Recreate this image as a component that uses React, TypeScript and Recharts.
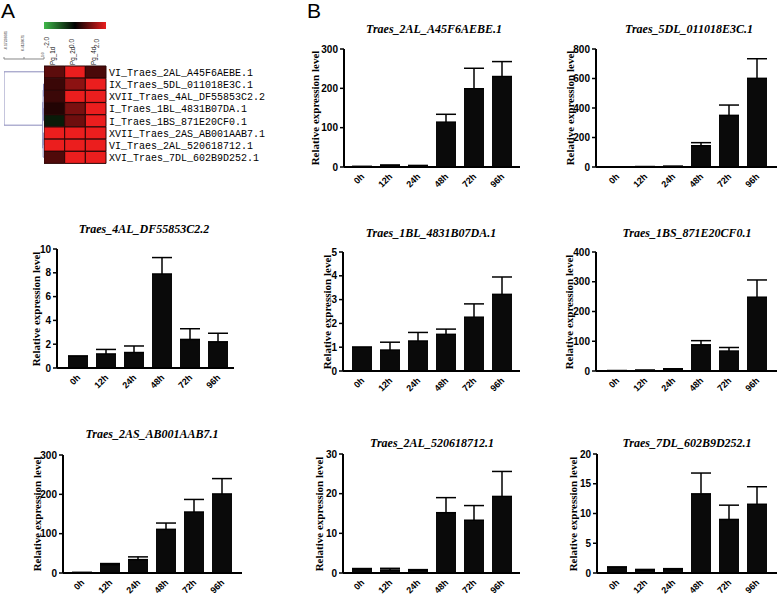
import React from 'react';
import { BarChart, Bar, XAxis, YAxis, ErrorBar, Cell, ScatterChart, Scatter } from 'recharts';

// ---------- Panel B data ----------
const timePoints = ['0h', '12h', '24h', '48h', '72h', '96h'];

const geneNames = [
  'Traes_2AL_A45F6AEBE.1',
  'Traes_5DL_011018E3C.1',
  'Traes_4AL_DF55853C2.2',
  'Traes_1BL_4831B07DA.1',
  'Traes_1BS_871E20CF0.1',
  'Traes_2AS_AB001AAB7.1',
  'Traes_2AL_520618712.1',
  'Traes_7DL_602B9D252.1',
];

const mean2AL_A45 = [1, 4, 3, 114, 199, 230];
const err2AL_A45 = [0.5, 1, 1, 20, 52, 38];
const mean5DL = [1, 2, 4, 144, 350, 601];
const err5DL = [0.5, 1, 1, 21, 70, 133];
const mean4AL = [1.0, 1.18, 1.3, 7.9, 2.4, 2.2];
const err4AL = [0, 0.38, 0.55, 1.38, 0.9, 0.72];
const mean1BL = [1.0, 0.88, 1.26, 1.54, 2.26, 3.22];
const err1BL = [0, 0.33, 0.36, 0.22, 0.56, 0.73];
const mean1BS = [1, 2, 6, 88, 67, 248];
const err1BS = [0.5, 1, 1.5, 14, 12, 58];
const mean2AS = [1, 21, 34, 111, 155, 201];
const err2AS = [0.5, 3, 7, 16, 32, 39];
const mean2AL_52 = [1.1, 0.76, 0.68, 15.2, 13.3, 19.3];
const err2AL_52 = [0, 0.42, 0.17, 3.8, 3.7, 6.3];
const mean7DL = [1.0, 0.45, 0.56, 13.3, 9.0, 11.55];
const err7DL = [0, 0.15, 0.17, 3.5, 2.4, 2.95];

const ticks300 = [0, 100, 200, 300];
const ticks800 = [0, 200, 400, 600, 800];
const ticks10 = [0, 2, 4, 6, 8, 10];
const ticks5 = [0, 1, 2, 3, 4, 5];
const ticks400 = [0, 100, 200, 300, 400];
const ticks30 = [0, 10, 20, 30];
const ticks20 = [0, 5, 10, 15, 20];

// ---------- Panel A data ----------
const heatGenes = [
  'VI_Traes_2AL_A45F6AEBE.1',
  'IX_Traes_5DL_011018E3C.1',
  'XVII_Traes_4AL_DF55853C2.2',
  'I_Traes_1BL_4831B07DA.1',
  'I_Traes_1BS_871E20CF0.1',
  'XVII_Traes_2AS_AB001AAB7.1',
  'VI_Traes_2AL_520618712.1',
  'XVI_Traes_7DL_602B9D252.1',
];
const heatCols = ['Pg_1d', 'Pg_2d', 'Pg_4d'];
const heat1d = [0.78, 0.49, 0.5, 0.29, -0.3, 2, 2, 0.68];
const heat2d = [2, 1.19, 2, 1.04, 0.94, 2, 2, 2];
const heat4d = [0.63, 2, 2, 2, 2, 2, 2, 2];
const colorScaleLabels = ['-2.0', '0.0', '2.0'];

const dendroTicks = [-0.17238681, 0.4138071, 1.0];
const dendroTickLabels = ['-0.17238681', '0.4138071', '1.0'];
// each segment: [similarity, row]
const dendroRoot = [[1.0, 0.5], [-0.17238681, 0.5], [-0.17238681, 4.875], [0.962, 4.875]];
const dendroA = [[1.0, 1.5], [0.985, 1.5], [0.985, 2.5], [1.0, 2.5]];
const dendroB = [[1.0, 3.5], [0.985, 3.5], [0.985, 4.5], [1.0, 4.5]];
const dendroC = [[1.0, 5.5], [0.99, 5.5], [0.99, 6.5], [1.0, 6.5]];
const dendroD = [[0.99, 6.0], [0.975, 6.0], [0.975, 7.5], [1.0, 7.5]];
const dendroE = [[0.985, 2.0], [0.975, 2.0], [0.975, 4.0], [0.985, 4.0]];
const dendroF = [[0.975, 3.0], [0.962, 3.0], [0.962, 6.75], [0.975, 6.75]];
const dendroSegments = [dendroRoot, dendroA, dendroB, dendroC, dendroD, dendroE, dendroF];

// ---------- layout (page pixels) ----------
const layouts = [
  { axisX: 344, endX: 520, top: 49, zero: 167, first: 362, labelX: 315, titleX: 434, titleY: 29 },
  { axisX: 596, endX: 777, top: 49, zero: 167, first: 617, labelX: 570, titleX: 689, titleY: 29 },
  { axisX: 57, endX: 234, top: 249, zero: 368, first: 78, labelX: 36, titleX: 144, titleY: 229 },
  { axisX: 343, endX: 520, top: 252, zero: 371, first: 362, labelX: 327, titleX: 431, titleY: 233 },
  { axisX: 596, endX: 777, top: 252, zero: 371, first: 617, labelX: 569, titleX: 687, titleY: 233 },
  { axisX: 63, endX: 242, top: 455, zero: 573, first: 82, labelX: 37, titleX: 152, titleY: 434 },
  { axisX: 343, endX: 520, top: 454, zero: 573, first: 362, labelX: 319, titleX: 432, titleY: 443 },
  { axisX: 597, endX: 777, top: 454, zero: 573, first: 617, labelX: 573, titleX: 687, titleY: 443 },
];

const series = [
  { mean: mean2AL_A45, err: err2AL_A45, ticks: ticks300 },
  { mean: mean5DL, err: err5DL, ticks: ticks800 },
  { mean: mean4AL, err: err4AL, ticks: ticks10 },
  { mean: mean1BL, err: err1BL, ticks: ticks5 },
  { mean: mean1BS, err: err1BS, ticks: ticks400 },
  { mean: mean2AS, err: err2AS, ticks: ticks300 },
  { mean: mean2AL_52, err: err2AL_52, ticks: ticks30 },
  { mean: mean7DL, err: err7DL, ticks: ticks20 },
];

const SANS = '"Liberation Sans", Arial, sans-serif';
const SERIF = '"Liberation Serif", "Times New Roman", serif';
const MONO = '"Liberation Mono", "Courier New", monospace';

const XTick = (props: any) => {
  const { x, y, payload } = props;
  const ax = x + 3;
  const ay = y + 10;
  return (
    <text x={ax} y={ay} transform={`rotate(-45, ${ax}, ${ay})`} textAnchor="end"
      fontFamily={SANS} fontWeight={700} fontSize={9} fill="#000">
      {payload.value}
    </text>
  );
};

function ExprChart({ idx }: { idx: number }) {
  const lay = layouts[idx];
  const s = series[idx];
  const data = timePoints.map((t, i) => ({ t, v: s.mean[i], e: [0, s.err[i]] }));
  const yW = 50;
  const L = lay.axisX - yW;
  const mt = 8;
  const T = lay.top - mt;
  const xH = 30;
  const H = lay.zero - T + xH;
  const mr = 1;
  const W = lay.endX - L + mr;
  const step = 28;
  const padL = Math.max(0, lay.first - step / 2 - lay.axisX);
  const padR = Math.max(0, lay.endX - (lay.first + 5 * step + step / 2));
  const yMax = s.ticks[s.ticks.length - 1];
  return (
    <>
      <div style={{ position: 'absolute', left: lay.titleX, top: lay.titleY, transform: 'translate(-50%, -50%)',
        fontFamily: SERIF, fontStyle: 'italic', fontWeight: 700, fontSize: 12, whiteSpace: 'nowrap', color: '#000' }}>
        {geneNames[idx]}
      </div>
      <div style={{ position: 'absolute', left: lay.labelX, top: (lay.top + lay.zero) / 2,
        transform: 'translate(-50%, -50%) rotate(-90deg)', fontFamily: SERIF, fontWeight: 700, fontSize: 11,
        whiteSpace: 'nowrap', color: '#000' }}>
        Relative expression level
      </div>
      <div style={{ position: 'absolute', left: L, top: T }}>
        <BarChart width={W} height={H} data={data} margin={{ top: mt, right: mr, bottom: 0, left: 0 }} barSize={20}>
          <XAxis dataKey="t" height={xH} tickLine={false} tickSize={0} tickMargin={0} interval={0}
            axisLine={{ stroke: '#000', strokeWidth: 2 }} padding={{ left: padL, right: padR }} tick={<XTick />} />
          <YAxis width={yW} domain={[0, yMax]} ticks={s.ticks} allowDataOverflow interval={0}
            tickLine={{ stroke: '#000', strokeWidth: 1.5 }} tickSize={4} tickMargin={2}
            axisLine={{ stroke: '#000', strokeWidth: 2 }}
            tick={{ fontFamily: SANS, fontWeight: 700, fontSize: 10, fill: '#000' }} />
          <Bar dataKey="v" fill="#0a0a0a" isAnimationActive={false}>
            <ErrorBar dataKey="e" width={10} stroke="#000" strokeWidth={1.5} direction="y" />
          </Bar>
        </BarChart>
      </div>
    </>
  );
}

function heatColor(v: number) {
  if (v >= 0) {
    const t = Math.min(v / 2, 1);
    return `rgb(${Math.round(235 * t)}, ${Math.round(30 * t)}, ${Math.round(30 * t)})`;
  }
  const t = Math.min(-v / 2, 1);
  return `rgb(${Math.round(60 * t)}, ${Math.round(180 * t)}, ${Math.round(60 * t)})`;
}

const HeatColTick = (props: any) => {
  const { x, y, payload } = props;
  const label = heatCols[Math.floor(payload.value)];
  const ax = x + 0.5;
  const ay = y + 1;
  return (
    <text x={ax} y={ay} transform={`rotate(-90, ${ax}, ${ay})`} textAnchor="start"
      fontFamily={SANS} fontSize={6.3} fill="#222">{label}</text>
  );
};

const HeatRowTick = (props: any) => {
  const { x, y, payload } = props;
  const txt = String(payload.value);
  return (
    <text x={x} y={y} dy="0.36em" textAnchor="start" fontFamily={MONO} fontSize={10.5}
      textLength={txt.length * 6} lengthAdjust="spacingAndGlyphs" fill="#000">{txt}</text>
  );
};

const dendroLabelBottom = [50, 51, 57];
const DendroTick = (props: any) => {
  const { x, index } = props;
  const ax = index === 0 ? x + 3 : x - 0.2;
  const ay = dendroLabelBottom[index];
  return (
    <text x={ax} y={ay - 31} transform={`rotate(-90, ${ax}, ${ay - 31})`} textAnchor="start"
      fontFamily={SANS} fontSize={3.4} fill="#444">{dendroTickLabels[index]}</text>
  );
};

function HeatMap() {
  const rows = heatGenes.map((g, i) => ({ gene: g, h1: heat1d[i], h2: heat2d[i], h3: heat4d[i] }));
  const keys = ['h1', 'h2', 'h3'];
  const cellTop = 65.7;
  const rowH = 12.2;
  const colTop = 26;
  const bottomPad = 5;
  const dendroRows = dendroSegments.map((seg) => seg.map(([sv, r]) => ({ s: sv, r })));
  return (
    <>
      {/* colour key */}
      <div style={{ position: 'absolute', left: 44, top: 22, width: 62, height: 6.5,
        background: 'linear-gradient(to right, #3fb84a, #000 50%, #ea1e1e)' }} />
      <svg style={{ position: 'absolute', left: 0, top: 0 }} width={110} height={50}>
        {colorScaleLabels.map((l, i) => {
          const ax = [49.3, 74.3, 99.3][i];
          const ay = 48;
          return (
            <text key={l} x={ax} y={ay} transform={`rotate(-90, ${ax}, ${ay})`} fontFamily={SANS}
              fontSize={6.5} fill="#333">{l}</text>
          );
        })}
      </svg>
      <div style={{ position: 'absolute', left: 44, top: cellTop - colTop }}>
        <BarChart layout="vertical" width={62 + 200} height={colTop + rowH * 8 + bottomPad} data={rows}
          margin={{ top: 0, right: 0, bottom: bottomPad, left: 0 }} barCategoryGap={0}>
          <XAxis type="number" orientation="top" domain={[0, 3]} ticks={[0.5, 1.5, 2.5]} height={colTop}
            axisLine={false} tickLine={false} tickSize={0} tickMargin={2} tick={<HeatColTick />} interval={0} />
          <YAxis type="category" dataKey="gene" orientation="right" width={200} axisLine={false} tickLine={false}
            tickSize={0} tickMargin={3} interval={0} tick={<HeatRowTick />} />
          {keys.map((k) => (
            <Bar key={k} dataKey={() => 1} stackId="s" isAnimationActive={false} stroke="#2a0606" strokeWidth={1}>
              {rows.map((r: any, i) => <Cell key={i} fill={heatColor(r[k])} />)}
            </Bar>
          ))}
        </BarChart>
      </div>
      <div style={{ position: 'absolute', left: 0, top: 31 }}>
        <ScatterChart width={47} height={28 + 104.3} margin={{ top: 0, right: 3, bottom: 0, left: 4 }}>
          <XAxis type="number" dataKey="s" orientation="top" domain={[-0.17238681, 1]} ticks={dendroTicks}
            height={28} allowDataOverflow interval={0} axisLine={{ stroke: '#888' }}
            tickLine={{ stroke: '#888' }} tickSize={2} tickMargin={1} tick={<DendroTick />} />
          <YAxis type="number" dataKey="r" domain={[-0.55, 8]} reversed hide allowDataOverflow />
          {dendroRows.map((seg, i) => (
            <Scatter key={i} data={seg} line={{ stroke: '#8a8abb', strokeWidth: 1 }} lineType="joint"
              shape={() => <g />} isAnimationActive={false} />
          ))}
        </ScatterChart>
      </div>
    </>
  );
}

export default function App() {
  return (
    <div style={{ position: 'absolute', left: 0, top: 0, width: 778, height: 598, overflow: 'hidden',
      background: '#fff' }}>
      <div style={{ position: 'absolute', left: 1, top: 0, fontFamily: SANS, fontSize: 21, lineHeight: '21px',
        color: '#000' }}>A</div>
      <div style={{ position: 'absolute', left: 307, top: 0, fontFamily: SANS, fontSize: 21, lineHeight: '21px',
        color: '#000' }}>B</div>
      <HeatMap />
      {layouts.map((_, i) => <ExprChart key={i} idx={i} />)}
    </div>
  );
}
